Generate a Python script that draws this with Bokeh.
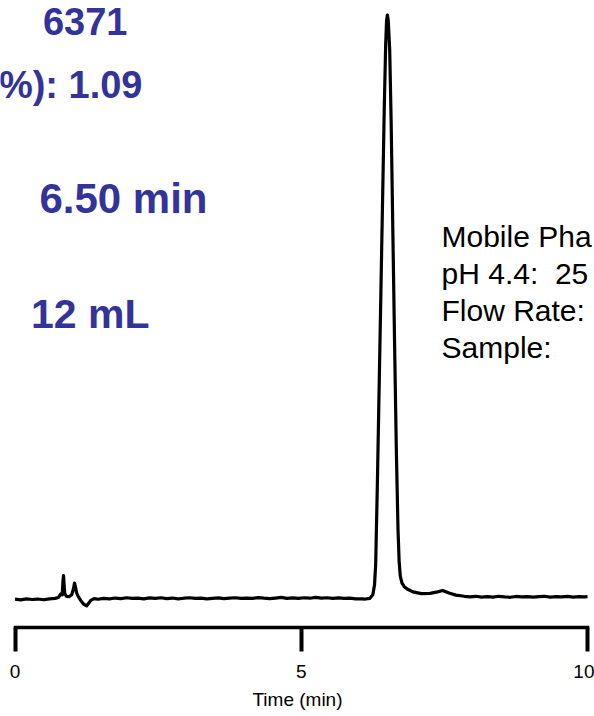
from bokeh.plotting import figure
from bokeh.models import LinearAxis, FixedTicker, Range1d
from bokeh.core.properties import value
from bokeh.embed import file_html
from bokeh.resources import INLINE

# ---------------- data ----------------
time_min = [
    0.00, 0.10, 0.20, 0.30, 0.40, 0.50, 0.60, 0.70, 0.76, 0.80,
    0.825, 0.838, 0.848, 0.858, 0.87, 0.90, 0.95, 0.99, 1.02, 1.04,
    1.055, 1.075, 1.10, 1.15, 1.20, 1.25, 1.29, 1.33, 1.38, 1.45,
    1.55, 1.65, 1.75, 1.85, 1.95, 2.05, 2.15, 2.25, 2.35, 2.45,
    2.55, 2.65, 2.75, 2.85, 2.95, 3.05, 3.15, 3.25, 3.35, 3.45,
    3.55, 3.65, 3.75, 3.85, 3.95, 4.05, 4.15, 4.25, 4.35, 4.45,
    4.55, 4.65, 4.75, 4.85, 4.95, 5.05, 5.15, 5.25, 5.35, 5.45,
    5.55, 5.65, 5.75, 5.85, 5.95, 6.05, 6.12, 6.20, 6.25, 6.28,
    6.30, 6.33, 6.36, 6.39, 6.42, 6.45, 6.475, 6.49, 6.505, 6.52,
    6.545, 6.57, 6.60, 6.63, 6.66, 6.69, 6.71, 6.73, 6.76, 6.80,
    6.85, 6.95, 7.10, 7.25, 7.38, 7.47, 7.58, 7.70, 7.85, 7.95,
    8.05, 8.15, 8.25, 8.35, 8.45, 8.55, 8.65, 8.75, 8.85, 8.95,
    9.05, 9.15, 9.25, 9.35, 9.45, 9.55, 9.65, 9.75, 9.85, 9.95,
    10.00,
]
signal = [
    0.05, -0.05, 0.10, 0.00, 0.08, -0.04, 0.12, 0.20, 0.35, 0.95,
    0.80, 3.20, 4.10, 2.40, 1.00, 0.55, 0.50, 0.80, 1.80, 2.80,
    2.20, 1.20, 0.60, -0.20, -0.80, -1.10, -0.60, -0.10, 0.15, 0.05,
    0.20, 0.10, 0.25, 0.15, 0.30, 0.18, 0.25, 0.12, 0.28, 0.20,
    0.30, 0.15, 0.25, 0.10, 0.22, 0.30, 0.18, 0.25, 0.12, 0.20,
    0.28, 0.15, 0.22, 0.30, 0.18, 0.25, 0.20, 0.32, 0.22, 0.15,
    0.25, 0.35, 0.20, 0.28, 0.18, 0.30, 0.22, 0.35, 0.25, 0.30,
    0.20, 0.28, 0.18, 0.22, 0.12, 0.10, 0.08, 0.20, 0.80, 2.50,
    6.00, 20.0, 36.0, 52.0, 68.0, 84.0, 95.0, 99.0, 100.0, 99.0,
    94.0, 82.0, 63.0, 44.0, 26.0, 12.0, 6.50, 4.00, 2.80, 2.20,
    1.80, 1.30, 1.00, 1.05, 1.30, 1.55, 1.10, 0.75, 0.55, 0.45,
    0.55, 0.40, 0.50, 0.42, 0.55, 0.45, 0.38, 0.52, 0.44, 0.50,
    0.40, 0.48, 0.55, 0.42, 0.50, 0.45, 0.52, 0.40, 0.48, 0.45,
    0.50,
]

x_ticks = [0, 5, 10]
x_title = "Time (min)"

stat_texts = ["6371", "%): 1.09", "6.50 min", "12 mL"]
method_texts = ["Mobile Pha", "pH 4.4:\u00a0 25", "Flow Rate:", "Sample:"]

# ---------------- figure ----------------
p = figure(
    width=594, height=716,
    x_range=Range1d(-0.2533, 10.1223),
    y_range=Range1d(-4.79, 102.48),
    x_axis_type=None, y_axis_type=None,
    output_backend="svg", toolbar_location=None,
    min_border_left=0, min_border_right=0, min_border_top=0,
    min_border_bottom=89,
)
p.outline_line_color = None
p.background_fill_color = "white"
p.border_fill_color = "white"

axis = LinearAxis(
    ticker=FixedTicker(ticks=x_ticks),
    bounds=(0, 10),
    axis_label=x_title,
)
axis.axis_line_width = 3.5
axis.axis_line_color = "black"
axis.axis_line_cap = "square"
axis.major_tick_line_width = 4
axis.major_tick_line_color = "black"
axis.major_tick_out = 24
axis.major_tick_in = 0
axis.minor_tick_out = 0
axis.minor_tick_in = 0
axis.major_label_text_font = "Liberation Sans"
axis.major_label_text_font_size = "19px"
axis.major_label_text_color = "black"
axis.major_label_standoff = 13
axis.axis_label_text_font = "Liberation Sans"
axis.axis_label_text_font_size = "19px"
axis.axis_label_text_font_style = "normal"
axis.axis_label_text_color = "black"
axis.axis_label_standoff = 8
p.add_layout(axis, "below")

# chromatogram trace
p.line(time_min, signal, line_width=3.2, line_color="black", line_join="round")

# peak statistics (blue, bold); y = middle of the capitals
blue = "#333399"
p.text(x=[1.965, 2.227], y=[98.97, 88.07], text=stat_texts[:2],
       text_font=value("Liberation Sans"), text_font_style="bold",
       text_font_size="38px", text_color=blue,
       text_align="right", text_baseline="alphabetic")
p.text(x=[3.362], y=[68.57], text=stat_texts[2:3],
       text_font=value("Liberation Sans"), text_font_style="bold",
       text_font_size="42px", text_color=blue,
       text_align="right", text_baseline="alphabetic")
p.text(x=[2.349], y=[48.85], text=stat_texts[3:],
       text_font=value("Liberation Sans"), text_font_style="bold",
       text_font_size="41px", text_color=blue,
       text_align="right", text_baseline="alphabetic")

# method conditions (black)
p.text(x=[7.45] * 4, y=[62.10, 55.77, 49.44, 43.11], text=method_texts,
       text_font=value("Liberation Sans"), text_font_size="30px",
       text_color="black", text_align="left", text_baseline="alphabetic")

open("out.html", "w").write(file_html(p, INLINE))
